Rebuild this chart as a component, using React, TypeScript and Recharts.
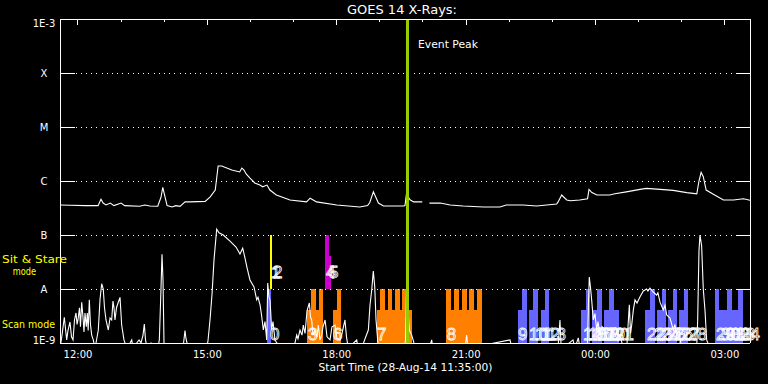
import React from 'react';
import { LineChart, Line, XAxis, YAxis, ReferenceArea, ReferenceLine, ReferenceDot } from 'recharts';

// all times are minutes after the plot start, 28-Aug-14 11:35:00
const hourTicks = [25, 85, 145, 205, 265, 325, 385, 445, 505, 565, 625, 685, 745, 805, 865, 925];
const labelTicks = [25, 205, 385, 565, 745, 925];
const labelText = ['12:00', '15:00', '18:00', '21:00', '00:00', '03:00'];

const levels = [1e-9, 1e-8, 1e-7, 1e-6, 1e-5, 1e-4, 1e-3];
const levelNames = ['1E-9', 'A', 'B', 'C', 'M', 'X', '1E-3'];

const eventPeak = 483.7;

// GOES long channel (1-8 A), W/m^2
const longChannel: [number, number | null][] = [
  [0, 3.6e-7], [14, 3.55e-7], [35, 3.5e-7], [53, 3.5e-7], [57, 4.6e-7], [60, 3.9e-7], [64, 3.6e-7],
  [70, 3.9e-7], [75, 3.5e-7], [85, 3.9e-7], [90, 3.5e-7], [111, 3.4e-7], [118, 3.6e-7], [125, 3.45e-7],
  [136, 3.4e-7], [140.5, 5e-7], [143, 7.6e-7], [145.5, 5.5e-7], [149, 3.5e-7], [156, 3.3e-7], [161, 3.5e-7],
  [167, 3.4e-7], [174, 4.1e-7], [181, 4.1e-7], [202, 4.2e-7], [209, 5.1e-7], [216, 6.8e-7], [220, 1.9e-6],
  [225, 1.9e-6], [239, 1.6e-6], [250, 1.47e-6], [253, 1.74e-6], [256, 1.6e-6], [259, 1.35e-6], [264, 1.14e-6],
  [271, 9.2e-7], [278, 8.4e-7], [282, 7.8e-7], [288, 8.4e-7], [292, 6.8e-7], [301, 5.5e-7], [320, 4.45e-7],
  [343, 4.1e-7], [348, 4.8e-7], [357, 4.1e-7], [385, 3.6e-7], [417, 3.3e-7], [428, 3.5e-7], [431, 4e-7],
  [436, 6.3e-7], [443, 3.9e-7], [450, 3.44e-7], [478, 3.44e-7], [480, 3.5e-7], [482, 5.7e-7], [487, 4.5e-7],
  [492, 4.1e-7], [504, 4.1e-7], [508, null], [514, 3.9e-7], [529, 3.9e-7], [543, 3.6e-7], [561, 3.44e-7],
  [589, 3.3e-7], [612, 3.3e-7], [621, 3.6e-7], [644, 3.6e-7], [663, 3.44e-7], [677, 3.6e-7], [691, 3.75e-7],
  [693, 4.1e-7], [698, 5.5e-7], [705, 4.45e-7], [710, 4.3e-7], [723, 4.45e-7], [734, 4.7e-7], [736, 7.0e-7],
  [740, 6.1e-7], [747, 5.5e-7], [765, 5.5e-7], [772, 5.8e-7], [788, 6.3e-7], [807, 7.0e-7], [816, 7.3e-7],
  [835, 7.0e-7], [853, 6.7e-7], [872, 6.1e-7], [886, 5.8e-7], [889, 1.0e-6], [892, 1.45e-6], [895, 1.2e-6],
  [899, 6.8e-7], [909, 5.7e-7], [923, 4.45e-7], [937, 4.45e-7], [951, 4.7e-7], [960, 4.4e-7],
];

// GOES short channel (0.5-4 A); 8e-10 = below the plot floor
const shortChannel: [number, number | null][] = [
  [0, 8e-10], [2.8, 1.4e-9], [6, 3.0e-9], [9.3, 1.14e-9], [11.1, 1.7e-9], [13.9, 2.45e-9], [16, 1.3e-9],
  [18.1, 1.14e-9], [20.2, 2.7e-9], [22.3, 3.6e-9], [23.7, 2.2e-9], [25, 2.67e-9], [27.1, 4.5e-9], [28.5, 2.0e-9],
  [30.2, 5.7e-9], [32, 3.0e-9], [33.4, 1.6e-9], [34.8, 3.6e-9], [36.6, 2.0e-9], [38, 3.6e-9], [39.2, 1.7e-9],
  [40.8, 6.3e-9], [42.4, 2.2e-9], [44.1, 1.4e-9], [46.3, 1.14e-9], [48.7, 8e-10], [50.1, 1.0e-9], [53.3, 1.74e-9],
  [55.7, 6.5e-9], [58, 1.25e-8], [60.2, 1.0e-8], [61.9, 4.5e-9], [64, 2.67e-9], [67.2, 1.74e-9], [69.6, 2.9e-9],
  [71.9, 2.67e-9], [73.7, 6.0e-9], [75.1, 4.5e-9], [76.5, 2.67e-9], [78.6, 4.5e-9], [80.7, 5.5e-9], [83.5, 7.0e-9],
  [85.8, 2.15e-9], [89, 1.14e-9], [92.8, 8e-10], [97.4, 1.0e-9], [99.8, 1.14e-9], [101.6, 8e-10], [106.7, 1.0e-9],
  [110, 1.14e-9], [112.7, 1.0e-9], [115.5, 1.4e-9], [117.3, 2.25e-9], [119, 1.14e-9], [121, 8e-10], [126.6, 1.0e-9],
  [129.4, 8e-10], [136.3, 8e-10], [138.2, 1.14e-9], [140.5, 1.0e-8], [141.9, 4.4e-8], [143.3, 1.5e-8], [144.7, 1.0e-9],
  [146.1, 8e-10], [171.1, 8e-10], [173.9, 1.7e-9], [175.3, 1.2e-9], [178.5, 8e-10], [204.1, 8e-10], [205.9, 1.1e-9],
  [208.7, 2.67e-9], [211.5, 8e-9], [214.3, 3.5e-8], [218, 1.28e-7], [221.2, 1.1e-7], [227.2, 1.0e-7], [236.5, 7.7e-8],
  [244.9, 6e-8], [250.4, 4.45e-8], [254.2, 5.7e-8], [257.4, 3.75e-8], [260.2, 2.5e-8], [264.3, 1.47e-8],
  [269.9, 1.09e-8], [273.7, 6.3e-9], [275.5, 7e-9], [278.3, 5.1e-9], [280.4, 3.3e-9], [282.9, 1.74e-9],
  [285.2, 2.5e-9], [287.6, 1.14e-9], [289, 1.29e-8], [290.8, 7e-9], [292.2, 6.3e-9], [294.5, 1.74e-9],
  [296.3, 2.5e-9], [299.1, 1.14e-9], [306.1, 8e-10], [324.6, 8e-10], [326.9, 1.0e-9], [329.3, 1.4e-9],
  [331.1, 1.2e-9], [333.9, 1.74e-9], [336.7, 1.4e-9], [338.5, 2.15e-9], [340.9, 1.5e-9], [343.7, 4e-9],
  [346.9, 5.5e-9], [348.6, 3.0e-9], [350.2, 2.67e-9], [352, 1.4e-9], [354.8, 1.74e-9], [357.6, 1.3e-9],
  [359.4, 2.15e-9], [361.7, 1.14e-9], [364.1, 1.4e-9], [365.9, 2.0e-9], [368.8, 2.67e-9], [371.5, 1.3e-9],
  [375.7, 1.14e-9], [378.4, 2.0e-9], [382.6, 2.15e-9], [385.4, 1.2e-9], [389.6, 1.14e-9], [392.3, 1.5e-9],
  [396.5, 2.67e-9], [398.6, 1.3e-9], [401.1, 8e-10], [412.8, 1.14e-9], [414.6, 8e-10], [419.8, 8e-10],
  [424.4, 1.2e-9], [429, 1.74e-9], [431.3, 5e-9], [433.7, 9.6e-9], [435.9, 2.15e-8], [437.9, 1.1e-8],
  [439.7, 2.67e-9], [442.9, 8e-10], [477.6, 8e-10], [480.7, 1.1e-9], [482.4, 1.47e-8], [483.5, 6e-9],
  [486, 1.74e-9], [489.3, 1.4e-9], [492.5, 1.0e-9], [496.3, 8e-10], [504.5, 8e-10], [508, null], [513.8, 8e-10],
  [517.1, 1.14e-9], [518.9, 8e-10], [534.3, 8e-10], [536, 1.0e-9], [537.5, 8e-10], [563.5, 8e-10], [565.8, 1.4e-9],
  [567.6, 8e-10], [626.1, 1.14e-9], [628.9, 8e-10], [692.8, 8e-10], [695.6, 2.67e-9], [697, 1.0e-9], [699.8, 8e-10],
  [713.7, 1.14e-9], [716.5, 8e-10], [721.1, 1.24e-9], [723.5, 8e-10], [733.6, 8e-10], [735.2, 5e-9],
  [736.4, 1.67e-8], [738, 1.1e-8], [739.7, 6.3e-9], [742, 2.67e-9], [744.3, 3.5e-9], [746.7, 1.74e-9],
  [748.5, 2.5e-9], [751.3, 1.4e-9], [754.1, 2.0e-9], [758.3, 1.74e-9], [761, 1.2e-9], [765.2, 1.14e-9],
  [768, 1.74e-9], [772.2, 1.4e-9], [776.4, 1.1e-9], [779.1, 1.4e-9], [783.8, 8e-10], [788.9, 1.0e-9],
  [792.1, 5.1e-9], [793.8, 1.5e-9], [795.4, 2.15e-9], [797.7, 4.1e-9], [800, 6.3e-9], [802.8, 5.5e-9],
  [807, 7.2e-9], [811.6, 9.2e-9], [816.2, 1.0e-8], [818, 9.2e-9], [820.8, 1.04e-8], [825.4, 8.8e-9],
  [830.1, 7.7e-9], [831.9, 8.5e-9], [834.8, 5.7e-9], [839.4, 4.1e-9], [841.7, 5e-9], [844.1, 3.3e-9],
  [848.7, 2.9e-9], [853.3, 1.74e-9], [855.6, 2.2e-9], [858, 1.4e-9], [861.2, 1.7e-9], [864.9, 8e-10],
  [885.8, 8e-10], [887.2, 2.67e-9], [889, 5e-8], [890.4, 1.0e-7], [892.7, 6.3e-8], [895, 1.0e-8], [897.4, 4e-9],
  [899.7, 1.14e-9], [904.3, 8e-10], [960, 8e-10],
];

// observation blocks: [start, end, top]; scan mode sits on 1E-9, sit & stare on A
const blueBlocks: [number, number, number][] = [
  [287.6, 293.1, 1e-8],
  [636.8, 650.2, 4.1e-9], [643.2, 650.2, 1e-8], [652.5, 664.6, 4.1e-9], [658.5, 664.6, 1e-8],
  [668.8, 680.8, 4.1e-9], [674.8, 680.8, 1e-8],
  [724.9, 737.8, 4.1e-9], [731.4, 737.8, 1e-8], [740.6, 753.6, 4.1e-9], [747.5, 753.6, 1e-8],
  [756.9, 777.7, 4.1e-9], [763.8, 770.1, 1e-8],
  [814.3, 827.8, 4.1e-9], [820.6, 827.8, 1e-8], [830.6, 843.1, 4.1e-9], [836.9, 843.1, 1e-8],
  [845.9, 858.4, 4.1e-9], [852.2, 858.4, 1e-8], [861.9, 874.4, 4.1e-9], [868.2, 874.4, 1e-8],
  [911.3, 949.8, 4.1e-9], [911.3, 917.3, 1e-8], [927.5, 934.5, 1e-8], [942.9, 949.8, 1e-8],
];
const orangeBlocks: [number, number, number][] = [
  [344, 365.9, 4.1e-9], [349.2, 356.2, 1e-8], [360.3, 365.9, 1e-8],
  [379.8, 391, 4.1e-9], [385, 391, 1e-8],
  [440.6, 489.3, 4.1e-9], [445.2, 452.2, 1e-8], [455.9, 462.3, 1e-8], [466, 473, 1e-8], [476.2, 482.3, 1e-8],
  [537, 586.7, 4.1e-9], [537, 544, 1e-8], [548.2, 555.1, 1e-8], [558.9, 565.8, 1e-8], [569.5, 576, 1e-8],
  [579.7, 586.7, 1e-8],
];
const yellowBlocks: [number, number, number][] = [[292.2, 295, 1e-7]];
const magentaBlocks: [number, number, number][] = [[368.3, 374.2, 1e-7], [374.2, 377, 4e-8]];

// observation number labels (index = number)
const obsTimes = [
  292.2, 293.6, 296.3, 345, 370.1, 374.2, 379.8, 441, 538, 637.2, 652.5, 660.9, 669.2, 677.6,
  727.6, 734.6, 740.2, 747.1, 752.7, 759.7, 765.2, 772.2, 816.8, 826.6, 836.3, 844.7, 854.3, 864,
  873.8, 912.7, 919.7, 926.6, 933.6, 940.5, 947.5,
];
const sitStareObs = [1, 2, 4, 5];
const scanLabelLevel = 1.14e-9;
const sitLabelLevel = 1.6e-8;

const WHITE = '#ffffff';
const FONT = 'DejaVu Sans';

function levelIndex(v: number) {
  return levels.findIndex((l) => Math.abs(Math.log10(l) - Math.log10(v)) < 0.01);
}

function LeftTick(props: any) {
  const { x, y, payload } = props;
  const i = levelIndex(payload.value);
  const dy = i === 0 ? -3 : i === levels.length - 1 ? 4 : 0;
  return (
    <g>
      <line x1={x} x2={x + 15} y1={y} y2={y} stroke={WHITE} shapeRendering="crispEdges" />
      <text x={x - 16} y={y + dy} dy="0.36em" textAnchor="middle" fill={WHITE} fontSize={10} fontFamily={FONT}>
        {levelNames[i]}
      </text>
    </g>
  );
}

function RightTick(props: any) {
  const { x, y } = props;
  return <line x1={x - 14} x2={x} y1={y} y2={y} stroke={WHITE} shapeRendering="crispEdges" />;
}

function TopTick(props: any) {
  const { x, y, payload } = props;
  const major = labelTicks.includes(payload.value);
  return <line x1={x} x2={x} y1={y} y2={y + (major ? 6 : 3)} stroke={WHITE} shapeRendering="crispEdges" />;
}

function blocks(list: [number, number, number][], bottom: number, color: string, key: string) {
  return list.map(([x1, x2, top], i) => (
    <ReferenceArea
      key={`${key}${i}`}
      x1={x1}
      x2={x2}
      y1={bottom}
      y2={top}
      fill={color}
      fillOpacity={1}
      stroke="none"
      ifOverflow="visible"
    />
  ));
}

export default function App() {
  const longData = longChannel.map(([t, f]) => ({ t, f }));
  const shortData = shortChannel.map(([t, f]) => ({ t, f }));

  return (
    <div style={{ position: 'absolute', left: 0, top: 0, width: 768, height: 384, background: '#000', overflow: 'hidden' }}>
      <style>
        {'.recharts-reference-area-rect,.recharts-reference-line-line,.recharts-cartesian-axis-line{shape-rendering:crispEdges}'}
      </style>
      <LineChart width={768} height={384} margin={{ top: 0, right: 0, bottom: 0, left: 0 }}>
        <XAxis
          type="number"
          dataKey="t"
          domain={[0, 960]}
          allowDataOverflow
          ticks={labelTicks}
          interval={0}
          tickFormatter={(v) => labelText[labelTicks.indexOf(v)]}
          height={41}
          tickSize={0}
          tickMargin={8}
          axisLine={{ stroke: WHITE }}
          tick={{ fill: WHITE, fontSize: 10, fontFamily: FONT }}
        />
        <XAxis
          xAxisId="top"
          orientation="top"
          type="number"
          dataKey="t"
          domain={[0, 960]}
          allowDataOverflow
          ticks={hourTicks}
          interval={0}
          height={19}
          tickSize={0}
          tickMargin={0}
          axisLine={{ stroke: WHITE }}
          tick={(p: any) => <TopTick {...p} />}
        />
        <YAxis
          scale="log"
          type="number"
          domain={[1e-9, 1e-3]}
          allowDataOverflow
          ticks={levels}
          interval={0}
          width={60}
          tickSize={0}
          tickMargin={0}
          axisLine={{ stroke: WHITE }}
          tick={(p: any) => <LeftTick {...p} />}
        />
        <YAxis
          yAxisId="right"
          orientation="right"
          scale="log"
          type="number"
          domain={[1e-9, 1e-3]}
          allowDataOverflow
          ticks={levels}
          interval={0}
          width={18}
          tickSize={0}
          tickMargin={0}
          axisLine={{ stroke: WHITE }}
          tick={(p: any) => <RightTick {...p} />}
        />
        {levels.slice(1, -1).map((v) => (
          <ReferenceLine key={v} y={v} stroke={WHITE} strokeDasharray="1 4.2" />
        ))}
        {blocks(blueBlocks, 1e-9, '#6666ff', 'b')}
        {blocks(orangeBlocks, 1e-9, '#ff8000', 'o')}
        {blocks(yellowBlocks, 1e-8, '#ffff00', 'y')}
        {blocks(magentaBlocks, 1e-8, '#cc00cc', 'm')}
        <Line
          data={shortData}
          dataKey="f"
          stroke={WHITE}
          strokeWidth={1.1}
          dot={false}
          connectNulls={false}
          isAnimationActive={false}
        />
        <Line
          xAxisId="top"
          yAxisId="right"
          data={longData}
          dataKey="f"
          stroke={WHITE}
          strokeWidth={1.1}
          dot={false}
          connectNulls={false}
          isAnimationActive={false}
        />
        <ReferenceLine x={eventPeak} stroke="#99cc00" strokeWidth={2.5} />
        {obsTimes.map((t, i) => (
          <ReferenceDot
            key={`l${i}`}
            x={t}
            y={sitStareObs.includes(i) ? sitLabelLevel : scanLabelLevel}
            r={0}
            ifOverflow="visible"
            shape={(p: any) => (
              <text
                x={p.cx}
                y={p.cy}
                fontSize={17}
                fontFamily="Liberation Sans"
                fill="none"
                stroke={WHITE}
                strokeWidth={0.8}
              >
                {i}
              </text>
            )}
          />
        ))}
      </LineChart>
      <svg width={768} height={384} style={{ position: 'absolute', left: 0, top: 0, pointerEvents: 'none' }}>
        <text x={347} y={14} fill={WHITE} fontSize={12} fontFamily={FONT} textLength={110} lengthAdjust="spacingAndGlyphs">
          GOES 14 X-Rays:
        </text>
        <text x={418} y={47.5} fill={WHITE} fontSize={11} fontFamily={FONT} textLength={60} lengthAdjust="spacingAndGlyphs">
          Event Peak
        </text>
        <text x={318.5} y={371} fill={WHITE} fontSize={10.5} fontFamily={FONT} textLength={174} lengthAdjust="spacingAndGlyphs">
          Start Time (28-Aug-14 11:35:00)
        </text>
        <text x={2} y={262.5} fill="#ffff00" fontSize={11} fontFamily={FONT} textLength={65} lengthAdjust="spacingAndGlyphs">
          Sit &amp; Stare
        </text>
        <text x={12.7} y={275} fill="#ffff00" fontSize={11} fontFamily={FONT} textLength={23.3} lengthAdjust="spacingAndGlyphs">
          mode
        </text>
        <text x={2} y={327.5} fill="#ffff00" fontSize={11} fontFamily={FONT} textLength={53} lengthAdjust="spacingAndGlyphs">
          Scan mode
        </text>
      </svg>
    </div>
  );
}
